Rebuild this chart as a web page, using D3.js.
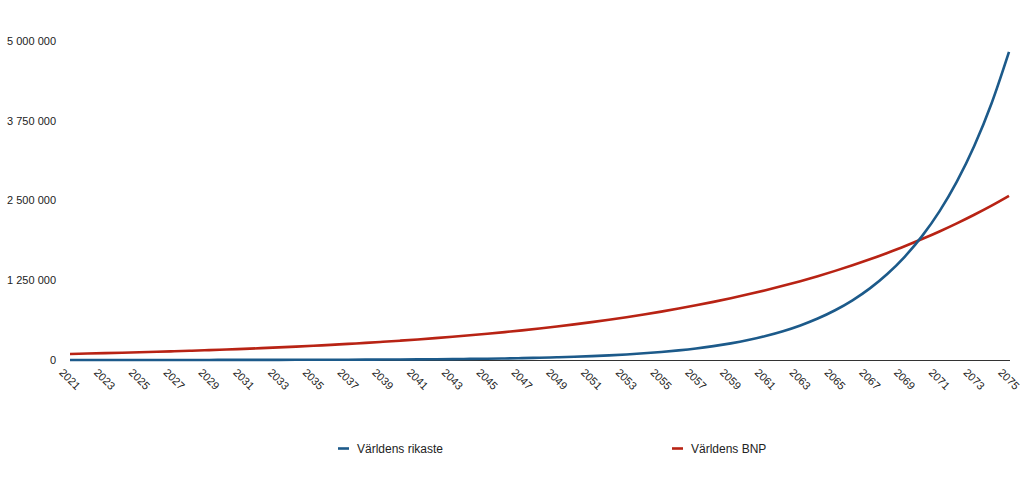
<!DOCTYPE html>
<html><head><meta charset="utf-8">
<script src="https://cdn.jsdelivr.net/npm/d3@7"></script>
<style>body{margin:0;background:#fff;}svg{display:block;font-family:"Liberation Sans",Arial,Helvetica,sans-serif;}</style>
</head><body>
<svg id="c" width="1024" height="486"></svg>
<script>
const years = d3.range(2021, 2076);
const richest = [260,310,380,450,540,650,780,940,1100,1350,1600,1900,2300,2800,3400,4000,4800,5800,7000,8000,
10000,12000,14000,17000,20000,24000,29000,35000,42000,50000,61000,73000,87000,105000,126000,151000,181000,218000,261000,313000,
376000,451000,542000,650000,780000,936000,1123000,1348000,1618000,1941000,2329000,2795000,3354000,4025000,4830000];
const gdp = [95000,101000,107300,114100,121300,128900,137000,145700,154800,164600,175000,186000,197700,210200,223400,237500,252500,268400,285300,303200,
322300,342600,364200,387200,411600,437500,465000,494300,525500,558600,593800,631200,671000,713200,758200,806000,856700,910700,968100,1029000,
1094000,1163000,1236000,1314000,1397000,1485000,1578000,1678000,1783000,1896000,2015000,2142000,2277000,2420000,2573000];
const yTicks = [0,1250000,2500000,3750000,5000000];
const seriesNames = ["Världens rikaste","Världens BNP"];
const colors = ["#1c5a8a","#b82314"];

const svg = d3.select("#c");
const x = d3.scaleLinear().domain([2021,2075]).range([70,1009]);
const y = d3.scaleLinear().domain([0,5000000]).range([360,41]);
const fmt = v => d3.format(",")(v).replace(/,/g," ");

// y labels
svg.append("g").selectAll("text").data(yTicks).join("text")
  .attr("x",56).attr("y",d=>y(d)).attr("dy","0.35em")
  .attr("text-anchor","end").attr("font-size",11).attr("fill","#222")
  .text(fmt);

// baseline
svg.append("line").attr("x1",x(2021)).attr("x2",x(2075)+1).attr("y1",y(0)+0.5).attr("y2",y(0)+0.5)
  .attr("stroke","#333").attr("stroke-width",1.2);

// x labels
const xl = years.filter((d,i)=>i%2===0);
svg.append("g").selectAll("text").data(xl).join("text")
  .attr("transform",d=>`translate(${x(d)},379) rotate(45)`)
  .attr("text-anchor","middle").attr("dominant-baseline","central")
  .attr("font-size",11).attr("fill","#222").text(d=>d);

const line = d3.line().x((d,i)=>x(years[i])).y(d=>y(d)).curve(d3.curveMonotoneX);
[gdp, richest].forEach((s,k)=>{
  svg.append("path").datum(s).attr("d",line).attr("fill","none")
    .attr("stroke", k===0?colors[1]:colors[0]).attr("stroke-width",2.6);
});

// legend
const legX = [338,672];
seriesNames.forEach((n,i)=>{
  svg.append("line").attr("x1",legX[i]).attr("x2",legX[i]+11).attr("y1",448.5).attr("y2",448.5)
    .attr("stroke",colors[i]).attr("stroke-width",2.6);
  svg.append("text").attr("x",legX[i]+19).attr("y",448.5).attr("dy","0.35em")
    .attr("font-size",12).attr("fill","#222").text(n);
});
</script>
</body></html>
